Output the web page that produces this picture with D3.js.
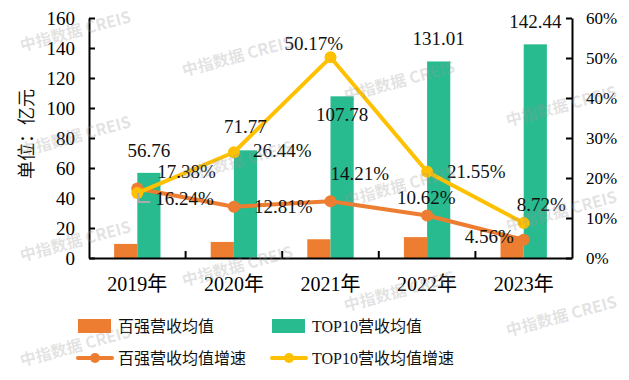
<!DOCTYPE html>
<html>
<head>
<meta charset="utf-8">
<script src="https://cdn.jsdelivr.net/npm/d3@7"></script>
<style>
  html, body { margin: 0; padding: 0; background: #fff; }
  svg { display: block; }
</style>
</head>
<body>
<svg id="chart" width="629" height="380"></svg>
<script>
// ---------- data ----------
const years = ["2019年", "2020年", "2021年", "2022年", "2023年"];
const top100Avg = [9.4, 10.7, 12.5, 13.9, 14.5];            // 百强营收均值 (亿元)
const top10Avg = [56.76, 71.77, 107.78, 131.01, 142.44];     // TOP10营收均值 (亿元)
const top100Growth = [17.38, 12.81, 14.21, 10.62, 4.56];     // 百强营收均值增速 (%)
const top10Growth = [16.24, 26.44, 50.17, 21.55, 8.72];      // TOP10营收均值增速 (%)
const leftTicks = [0, 20, 40, 60, 80, 100, 120, 140, 160];
const rightTicks = [0, 10, 20, 30, 40, 50, 60];
const seriesNames = ["百强营收均值", "TOP10营收均值", "百强营收均值增速", "TOP10营收均值增速"];
const yTitle = "单位：亿元";
const watermark = "中指数据 CREIS";

// ---------- label placement (layout) ----------
const barLabelDy = [-16, -17, 25, -16.5, -16];
const g100Off = [[20, -10], [20, 6], [0, -21], [-30, -11.5], [-59, 3]];
const g10Off = [[18, 12], [19, 5], [-46, -7], [20, 6], [-7, -12]];

// ---------- styles ----------
const C_ORANGE = "#ED7D31", C_GREEN = "#28BB8F", C_YELLOW = "#FFC000";
const SERIF = "'Liberation Serif', 'Noto Sans CJK SC', serif";

const svg = d3.select("#chart");
svg.append("rect").attr("width", 629).attr("height", 380).attr("fill", "#fff");

const m = { left: 89, right: 572, top: 18, bottom: 258 };
const x0 = d3.scaleBand().domain(years).range([m.left, m.right]).paddingInner(0.52).paddingOuter(0.26);
const x1 = d3.scaleBand().domain(["a", "b"]).range([0, x0.bandwidth()]);
const yL = d3.scaleLinear().domain([0, 160]).range([m.bottom, m.top]);
const yR = d3.scaleLinear().domain([0, 60]).range([m.bottom, m.top]);
const cx = d => x0(d) + x0.bandwidth() / 2;

// bars
const bars = svg.append("g");
bars.selectAll(".b100").data(years).join("rect")
  .attr("x", d => x0(d) + x1("a")).attr("width", x1.bandwidth())
  .attr("y", (d, i) => yL(top100Avg[i])).attr("height", (d, i) => yL(0) - yL(top100Avg[i]))
  .attr("fill", C_ORANGE);
bars.selectAll(".b10").data(years).join("rect")
  .attr("x", d => x0(d) + x1("b")).attr("width", x1.bandwidth())
  .attr("y", (d, i) => yL(top10Avg[i])).attr("height", (d, i) => yL(0) - yL(top10Avg[i]))
  .attr("fill", C_GREEN);

// axes
const axL = svg.append("g").attr("transform", `translate(${m.left},0)`)
  .call(d3.axisLeft(yL).tickValues(leftTicks).tickSizeInner(-6).tickSizeOuter(0).tickPadding(14));
const axR = svg.append("g").attr("transform", `translate(${m.right},0)`)
  .call(d3.axisRight(yR).tickValues(rightTicks).tickFormat(d => d + "%").tickSizeInner(-6).tickSizeOuter(0).tickPadding(14));
const axB = svg.append("g").attr("transform", `translate(0,${m.bottom})`)
  .call(d3.axisBottom(x0).tickSize(0).tickPadding(19));
[axL, axR, axB].forEach(a => {
  a.select(".domain").attr("stroke", "#000").attr("stroke-width", 2);
  a.selectAll(".tick line").attr("stroke", "#000").attr("stroke-width", 2);
  a.selectAll("text").attr("fill", "#000").attr("font-family", SERIF);
});
axL.selectAll("text").attr("font-size", 19);
axR.selectAll("text").attr("font-size", 17);
axB.selectAll("text").attr("font-size", 20);
// category boundary ticks
axB.selectAll(".btick").data(years.slice(1)).join("line")
  .attr("x1", d => x0(d) - x0.step() * x0.paddingInner() / 2)
  .attr("x2", d => x0(d) - x0.step() * x0.paddingInner() / 2)
  .attr("y1", 0).attr("y2", -7).attr("stroke", "#000").attr("stroke-width", 2);

// y title
svg.append("text").attr("transform", "translate(27,134) rotate(-90)")
  .attr("text-anchor", "middle").attr("dominant-baseline", "central")
  .attr("font-family", SERIF).attr("font-size", 18).attr("fill", "#111").text(yTitle);

// lines
const line = vals => d3.line().x((d, i) => cx(years[i])).y(d => yR(d))(vals);
[[top100Growth, C_ORANGE], [top10Growth, C_YELLOW]].forEach(([vals, col]) => {
  svg.append("path").attr("d", line(vals)).attr("fill", "none").attr("stroke", col)
    .attr("stroke-width", 4).attr("stroke-linejoin", "round");
  svg.append("g").selectAll("circle").data(vals).join("circle")
    .attr("cx", (d, i) => cx(years[i])).attr("cy", d => yR(d)).attr("r", 6).attr("fill", col);
});

// leader line for first TOP10 growth label
{
  const px = cx(years[0]) + 1, py = yR(top10Growth[0]);
  svg.append("path").attr("d", `M${px},${py}V${py + 9}H${px + 12}`)
    .attr("fill", "none").attr("stroke", "#aaa").attr("stroke-width", 2);
}

// labels
const lab = svg.append("g").attr("font-family", SERIF).attr("font-size", 19).attr("fill", "#111");
lab.selectAll(".bl").data(top10Avg).join("text")
  .attr("x", (d, i) => x0(years[i]) + x1("b") + x1.bandwidth() / 2)
  .attr("y", (d, i) => yL(d) + barLabelDy[i])
  .attr("text-anchor", "middle").text(d => d.toFixed(2));
lab.selectAll(".g100").data(top100Growth).join("text")
  .attr("x", (d, i) => cx(years[i]) + g100Off[i][0])
  .attr("y", (d, i) => yR(d) + g100Off[i][1]).text(d => d.toFixed(2) + "%");
lab.selectAll(".g10").data(top10Growth).join("text")
  .attr("x", (d, i) => cx(years[i]) + g10Off[i][0])
  .attr("y", (d, i) => yR(d) + g10Off[i][1]).text(d => d.toFixed(2) + "%");

// legend
const leg = svg.append("g").attr("font-family", SERIF).attr("font-size", 16).attr("fill", "#111");
const legItems = [
  { x: 78, y: 326, type: "rect", col: C_ORANGE, name: seriesNames[0] },
  { x: 272, y: 326, type: "rect", col: C_GREEN, name: seriesNames[1] },
  { x: 78, y: 358, type: "line", col: C_ORANGE, name: seriesNames[2] },
  { x: 272, y: 358, type: "line", col: C_YELLOW, name: seriesNames[3] }
];
legItems.forEach(it => {
  if (it.type === "rect") {
    leg.append("rect").attr("x", it.x).attr("y", it.y - 7).attr("width", 33).attr("height", 14).attr("fill", it.col);
  } else {
    leg.append("line").attr("x1", it.x).attr("x2", it.x + 34).attr("y1", it.y).attr("y2", it.y)
      .attr("stroke", it.col).attr("stroke-width", 4).attr("stroke-linecap", "round");
    leg.append("circle").attr("cx", it.x + 17).attr("cy", it.y).attr("r", 5).attr("fill", it.col);
  }
  leg.append("text").attr("x", it.x + 40).attr("y", it.y).attr("dominant-baseline", "central").text(it.name);
});

// watermark (only fully visible copies)
const wm = svg.append("g").attr("font-family", "'Noto Sans CJK SC', sans-serif").attr("font-weight", "bold")
  .attr("font-size", 16).attr("fill", "#9a9a9a").attr("fill-opacity", 0.28).attr("pointer-events", "none");
for (let c = 0; c < 4; c++) {
  for (let k = -1; k < 4; k++) {
    const wx = 75 + 162 * c, wy = 30 + 25 * c + 105 * k;
    if (wy < 26 || wy > 354) continue;
    wm.append("text").attr("transform", `translate(${wx},${wy}) rotate(-15)`)
      .attr("text-anchor", "middle").attr("dominant-baseline", "central").text(watermark);
  }
}
</script>
</body>
</html>
